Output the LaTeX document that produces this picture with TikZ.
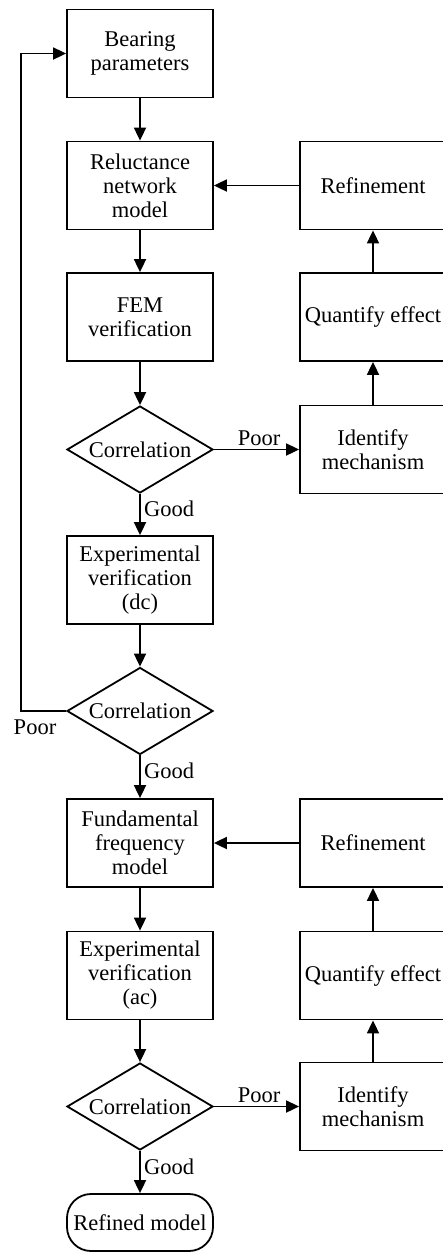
\documentclass[tikz,border=0pt]{standalone}
\usepackage{fontspec}
\setmainfont{Liberation Serif}
\usetikzlibrary{
    arrows.meta,
    shapes.geometric,
    positioning
}

\tikzset{
    block/.style={draw, line width=1.8pt, minimum width=146pt, minimum height=88pt, align=center, inner sep=2pt},
    decision/.style={draw, diamond, line width=1.8pt, minimum width=146pt, minimum height=87pt, inner sep=0pt, aspect=1.7},
    terminal/.style={draw, line width=1.8pt, rounded corners=24pt, minimum width=146pt, minimum height=57pt},
    flow/.style={->, line width=1.8pt}
}

\begin{document}
\begin{tikzpicture}[>={Triangle[length=13pt,width=12pt]},x=1pt,y=1pt,font=\fontsize{22.5}{24}\selectfont]
            \useasboundingbox (0,0) rectangle (443,-1253);
            \clip (0,0) rectangle (443,-1253);

            % left column
            \node[block] (bear) at (140,-53.5) {Bearing\\parameters};
            \node[block] (rel) at (140,-185.5) {Reluctance\\network\\model};
            \node[block] (fem) at (140,-317) {FEM\\verification};
            \node[decision] (cor1) at (140,-449.5) {Correlation};
            \node[block] (expdc) at (140,-580) {Experimental\\verification\\(dc)};
            \node[decision] (cor2) at (140,-711) {Correlation};
            \node[block] (fund) at (140,-843) {Fundamental\\frequency\\model};
            \node[block] (expac) at (140,-975.5) {Experimental\\verification\\(ac)};
            \node[decision] (cor3) at (140,-1106.5) {Correlation};
            \node[terminal] (done) at (140,-1222.5) {Refined model};

            % right column
            \node[block] (ref1) at (373,-185.5) {Refinement};
            \node[block] (qua1) at (373,-317) {Quantify effect};
            \node[block] (ide1) at (373,-449.5) {Identify\\mechanism};
            \node[block] (ref2) at (373,-843) {Refinement};
            \node[block] (qua2) at (373,-975.5) {Quantify effect};
            \node[block] (ide2) at (373,-1106.5) {Identify\\mechanism};

            % main flow
            \draw[flow] (bear) -- (rel);
            \draw[flow] (rel) -- (fem);
            \draw[flow] (fem) -- (cor1);
            \draw[flow] (cor1) -- node[right, pos=0.35] (good1) {Good} (expdc);
            \draw[flow] (expdc) -- (cor2);
            \draw[flow] (cor2) -- node[right, pos=0.36] (good2) {Good} (fund);
            \draw[flow] (fund) -- (expac);
            \draw[flow] (expac) -- (cor3);
            \draw[flow] (cor3) -- node[right, pos=0.38] (good3) {Good} (done);

            % refinement loops
            \draw[flow] (cor1) -- node[above, pos=0.53] (poor1) {Poor} (ide1);
            \draw[flow] (ide1) -- (qua1);
            \draw[flow] (qua1) -- (ref1);
            \draw[flow] (ref1) -- (rel);

            \draw[flow] (cor3) -- node[above, pos=0.53] (poor3) {Poor} (ide2);
            \draw[flow] (ide2) -- (qua2);
            \draw[flow] (qua2) -- (ref2);
            \draw[flow] (ref2) -- (fund);

            % back to the start
            \coordinate (back) at (21,-53.5);
            \draw[flow] (cor2.west) -| (back) -- (bear.west);
            \node (poor2) at (35,-727) {Poor};
        \end{tikzpicture}
\end{document}
